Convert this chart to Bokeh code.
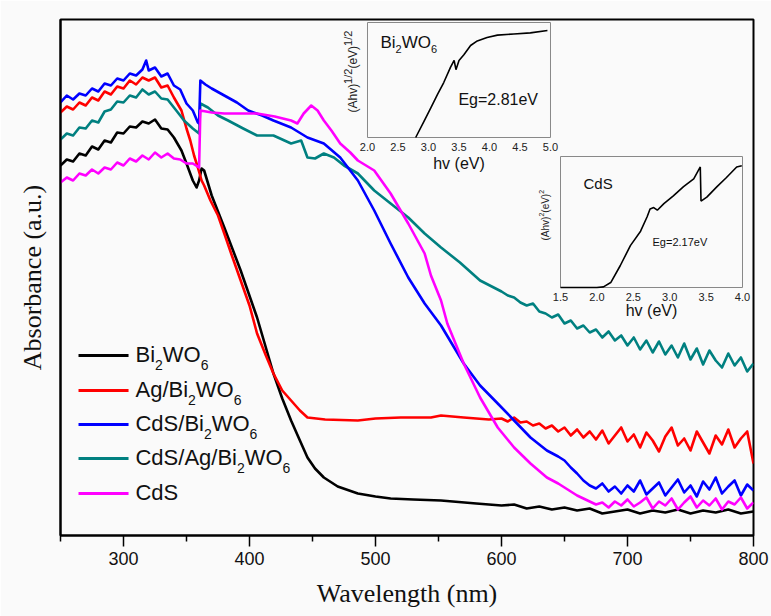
import math
from bokeh.plotting import figure
from bokeh.models import Range1d, FixedTicker
from bokeh.core.properties import value
from bokeh.embed import file_html
from bokeh.resources import INLINE

# ---------------- data ----------------
wl_black = [250, 255, 260, 265, 270, 275, 280, 285, 290, 295, 300, 305, 310, 315, 320, 325, 330, 335, 340,
            346, 350, 355, 358, 360, 362, 364,
            370, 380, 393, 406, 419, 426, 433, 440, 446, 452, 459, 470, 486, 500, 512, 530, 552, 580,
            600, 610, 620, 630, 640, 650, 660, 670, 680, 690, 700, 710, 720, 730, 740, 750, 760, 770, 780, 790, 800]
ab_black = [370, 376, 374, 382, 380, 389, 386, 395, 393, 403, 402, 409, 408, 414, 412, 416, 407, 406, 398,
            385, 372, 355, 348, 355, 367, 365,
            340, 308, 265, 218, 162, 137, 115, 95, 78, 67, 58, 49, 42, 39, 37, 36, 35, 32,
            30, 31, 27, 29, 26, 28, 25, 27, 22, 24, 26, 22, 25, 23, 26, 22, 25, 23, 26, 22, 24]

wl_red = [250, 255, 260, 265, 270, 275, 280, 285, 290, 295, 300, 305, 310, 315, 320, 325, 330, 335, 340,
          346, 350, 353, 356, 359, 362, 364, 369, 375, 380, 386, 393, 400, 406, 413, 419, 426, 433, 440, 446,
          460, 486, 500, 520, 544, 552, 570, 590,
          600, 605, 610, 615, 620, 625, 630, 635, 640, 645, 650, 655, 660, 665, 670, 675, 680, 685, 690, 695,
          700, 705, 710, 715, 720, 725, 730, 735, 740, 745, 750, 755, 760, 765, 770, 775, 780, 785, 790, 795, 800]
ab_red = [423, 429, 426, 433, 430, 438, 435, 444, 441, 449, 447, 455, 451, 458, 455, 458, 448, 450, 438,
          425, 407, 395, 380, 368, 355, 350, 335, 320, 302, 280, 255, 230, 202, 180, 162, 145, 135, 125, 118,
          116, 115, 117, 118, 118, 120, 118, 116,
          117, 114, 118, 113, 114, 110, 112, 107, 110, 104, 108, 100, 106, 98, 104, 96, 105, 92, 100, 108,
          94, 101, 88, 103, 95, 84, 99, 108, 90, 97, 85, 104, 93, 82, 100, 91, 106, 88, 97, 104, 72]

wl_blue = [250, 255, 260, 265, 270, 275, 280, 285, 290, 295, 300, 305, 310, 315,
           318, 320, 325, 330, 335, 340, 345, 350, 355, 359, 360,
           361, 365, 370, 380, 390, 399, 410, 419, 433, 446, 459, 472, 486, 499, 512, 526, 539, 552, 570, 583,
           597, 610, 623, 636, 645,
           650, 655, 660, 665, 670, 675, 680, 685, 690, 695, 700, 705, 710, 715, 720, 725, 730, 735, 740, 745,
           750, 755, 760, 765, 770, 775, 780, 785, 790, 795, 800]
ab_blue = [433, 440, 436, 442, 440, 447, 444, 452, 450, 457, 455, 462, 460, 466,
           475, 465, 468, 459, 462, 450, 446, 432, 425, 413, 412,
           455, 451, 447, 440, 433, 425, 420, 415, 408, 398, 392, 378, 355, 325, 292, 258, 232, 210, 172, 150,
           132, 115, 98, 85, 79,
           75, 68, 62, 55, 50, 47, 52, 44, 49, 42, 50, 44, 55, 41, 47, 53, 40, 48, 56, 43,
           50, 39, 54, 46, 58, 42, 49, 55, 40, 51, 45]

wl_teal = [250, 255, 260, 265, 270, 275, 280, 285, 290, 295, 300, 305, 310, 315, 320, 325, 330, 335, 340, 345,
           348, 355, 360,
           361, 367, 375, 383, 395, 406, 419, 433, 441, 446, 452, 459, 467, 475, 486, 499, 512, 526, 539, 552,
           567, 583,
           600, 605, 610, 615, 620, 625, 630, 635, 640, 645, 650, 655, 660, 665, 670, 675, 680, 685, 690, 695,
           700, 705, 710, 715, 720, 725, 730, 735, 740, 745, 750, 755, 760, 765, 770, 775, 780, 785, 790, 795, 800]
ab_teal = [396, 402, 400, 408, 407, 415, 413, 424, 426, 434, 433, 440, 438, 446, 441, 444, 437, 436, 428, 420,
           415, 407, 402,
           432, 428, 420, 415, 407, 400, 400, 392, 395, 378, 377, 382, 378, 370, 362, 345, 332, 318, 302, 288,
           273, 255,
           244, 240, 238, 233, 230, 232, 224, 222, 218, 221, 212, 215, 207, 210, 203, 206, 198, 204, 195, 200,
           190, 198, 186, 195, 183, 194, 181, 190, 178, 192, 176, 187, 171, 185, 175, 168, 182, 170, 178, 164, 172]

wl_mag = [250, 255, 260, 265, 270, 275, 280, 285, 290, 295, 300, 305, 310, 315, 320, 325, 330, 335, 340, 345,
          350, 355, 360,
          361, 370, 380, 395, 406, 420, 433, 438, 443, 449, 454, 459, 465, 472, 480, 486, 499, 512, 526, 539,
          544, 552, 557, 570, 583, 597, 610, 623, 636, 645,
          650, 655, 660, 665, 670, 675, 680, 685, 690, 695, 700, 705, 710, 715, 720, 725, 730, 735, 740, 745,
          750, 755, 760, 765, 770, 775, 780, 785, 790, 795, 800]
ab_mag = [353, 358, 355, 362, 360, 366, 362, 368, 366, 373, 370, 377, 374, 380, 376, 383, 378, 382, 377, 376,
          372, 372, 368,
          425, 423, 422, 422, 422, 419, 415, 412, 422, 430, 425, 415, 405, 392, 383, 375, 365, 342, 312, 282,
          260, 235, 212, 172, 138, 108, 88, 72, 58, 52,
          48, 44, 40, 37, 34, 31, 33, 28, 34, 30, 36, 29, 33, 38, 27, 34, 30, 37, 26, 33,
          39, 28, 35, 30, 37, 26, 34, 31, 38, 27, 33]

series_names = ["Bi2WO6", "Ag/Bi2WO6", "CdS/Bi2WO6", "CdS/Ag/Bi2WO6", "CdS"]
series_colors = ["#000000", "#ff0000", "#0000ff", "#008080", "#ff00ff"]

# inset 1: Tauc plot of Bi2WO6
ev1 = [2.79, 2.93, 3.04, 3.15, 3.25, 3.36, 3.42, 3.45, 3.50, 3.58, 3.69, 3.80, 3.96, 4.13, 4.40, 4.67, 4.95]
ta1 = [0.0, 0.145, 0.26, 0.377, 0.478, 0.61, 0.67, 0.59, 0.67, 0.72, 0.80, 0.84, 0.87, 0.89, 0.90, 0.91, 0.93]
# inset 2: Tauc plot of CdS
ev2 = [1.5, 1.8, 2.0, 2.09, 2.19, 2.32, 2.46, 2.60, 2.69, 2.73, 2.78, 2.83, 2.92, 3.05, 3.19, 3.33, 3.42,
       3.43, 3.51, 3.65, 3.78, 3.92, 3.99]
ta2 = [0.0, 0.0, 0.0, 0.005, 0.038, 0.166, 0.32, 0.43, 0.54, 0.60, 0.61, 0.59, 0.64, 0.70, 0.77, 0.83, 0.92,
       0.66, 0.69, 0.77, 0.84, 0.92, 0.93]

x_ticks = [300, 400, 500, 600, 700, 800]
x_minor = [250, 350, 450, 550, 650, 750]
ins1_ticks = [2.0, 2.5, 3.0, 3.5, 4.0, 4.5, 5.0]
ins2_ticks = [1.5, 2.0, 2.5, 3.0, 3.5, 4.0]

for a, b in [(wl_black, ab_black), (wl_red, ab_red), (wl_blue, ab_blue), (wl_teal, ab_teal), (wl_mag, ab_mag)]:
    if len(a) != len(b):
        print("length mismatch", len(a), len(b))

# ---------------- helpers ----------------
ARIAL = {"B": 667, "i": 222, "W": 944, "O": 778, "A": 667, "g": 556, "/": 278, "C": 722, "d": 556,
         "S": 667, "0": 556, "1": 556, "2": 556, "6": 556, "(": 333, ")": 333, "h": 556, "v": 500,
         "e": 556, "V": 667, " ": 278}


def tw(s, size):
    return sum(ARIAL.get(c, 556) for c in s) * size / 1000.0


SANS = value("Liberation Sans")
SERIF = "Liberation Serif"
BG = "#fafafa"

# ---------------- main figure ----------------
p = figure(width=771, height=616, x_range=Range1d(250, 800), y_range=Range1d(0, 516),
           output_backend="svg", toolbar_location=None,
           min_border_left=60, min_border_right=18, min_border_top=19, min_border_bottom=81)
p.background_fill_color = BG
p.border_fill_color = BG
p.outline_line_color = "black"
p.outline_line_width = 2
p.xgrid.visible = False
p.ygrid.visible = False

xa = p.xaxis[0]
xa.ticker = FixedTicker(ticks=x_ticks, minor_ticks=x_minor)
xa.major_tick_in = 0
xa.major_tick_out = 11
xa.minor_tick_in = 0
xa.minor_tick_out = 6
xa.major_tick_line_width = 1.5
xa.minor_tick_line_width = 1.5
xa.axis_line_width = 2
xa.major_label_text_font = "Liberation Sans"
xa.major_label_text_font_size = "18px"
xa.major_label_text_color = "#111111"
xa.major_label_standoff = 5
xa.axis_label = "Wavelength (nm)"
xa.axis_label_text_font = SERIF
xa.axis_label_text_font_size = "26px"
xa.axis_label_text_font_style = "normal"
xa.axis_label_text_color = "#111111"
xa.axis_label_standoff = 11

ya = p.yaxis[0]
ya.ticker = FixedTicker(ticks=[])
ya.major_tick_in = 0
ya.major_tick_out = 0
ya.minor_tick_in = 0
ya.minor_tick_out = 0
ya.major_label_text_font_size = "0px"
ya.axis_line_width = 2
ya.axis_label = "Absorbance (a.u.)"
ya.axis_label_text_font = SERIF
ya.axis_label_text_font_size = "26px"
ya.axis_label_text_font_style = "normal"
ya.axis_label_text_color = "#111111"
ya.axis_label_standoff = 14

xs_all = [wl_black, wl_red, wl_teal, wl_blue, wl_mag]
ys_all = [ab_black, ab_red, ab_teal, ab_blue, ab_mag]
cols = ["#000000", "#ff0000", "#008080", "#0000ff", "#ff00ff"]
for xs, ys, c in zip(xs_all, ys_all, cols):
    p.line(xs, ys, line_color=c, line_width=2.6, line_join="round")

# ---------------- legend (drawn by hand to allow subscripts) ----------------
leg_y = [180, 145, 111, 77, 42]
leg_x0, leg_x1, leg_tx = 264.3, 304.0, 309.5
p.segment(x0=[leg_x0] * 5, x1=[leg_x1] * 5, y0=leg_y, y1=leg_y, line_color=series_colors, line_width=3)

MAIN, SUB = 22, 14
for name, yy in zip(series_names, leg_y):
    pieces = []
    buf = ""
    for ch in name:
        if ch.isdigit():
            if buf:
                pieces.append((buf, False))
                buf = ""
            pieces.append((ch, True))
        else:
            buf += ch
    if buf:
        pieces.append((buf, False))
    off = 0.0
    for txt, sub in pieces:
        size = SUB if sub else MAIN
        p.text(x=[leg_tx], y=[yy], text=[txt], x_offset=off, y_offset=9 if sub else -1,
               text_font=SANS, text_font_size=f"{size}px", text_color="#111111",
               text_align="left", text_baseline="middle")
        off += tw(txt, size)

# ---------------- inset 1 (Bi2WO6) ----------------
p.extra_x_ranges["i1x"] = Range1d(-3.0328, 8.3279)
p.extra_y_ranges["i1y"] = Range1d(-3.4609, 1.0261)
kw1 = dict(x_range_name="i1x", y_range_name="i1y")
p.quad(left=[2.0], right=[5.0], bottom=[0], top=[1], fill_color=BG, line_color="#888888", line_width=1, **kw1)
p.line(ev1, ta1, line_color="black", line_width=1.6, **kw1)
p.text(x=ins1_ticks, y=[0] * len(ins1_ticks), text=[f"{t:.1f}" for t in ins1_ticks], y_offset=9,
       text_font=SANS, text_font_size="11px", text_color="#222222", text_align="center",
       text_baseline="middle", **kw1)
p.text(x=[3.5], y=[0], text=["hv (eV)"], y_offset=26, text_font=SANS, text_font_size="16px",
       text_color="#111111", text_align="center", text_baseline="middle", **kw1)
p.text(x=[3.49], y=[0.33], text=["Eg=2.81eV"], text_font=SANS, text_font_size="16px",
       text_color="#111111", text_align="left", text_baseline="middle", **kw1)
off = 0.0
for txt, sz, sub in [("Bi", 17, False), ("2", 11, True), ("WO", 17, False), ("6", 11, True)]:
    p.text(x=[2.213], y=[0.826], text=[txt], x_offset=off, y_offset=6 if sub else 0,
           text_font=SANS, text_font_size=f"{sz}px", text_color="#111111",
           text_align="left", text_baseline="middle", **kw1)
    off += tw(txt, sz)
ypos = 0.217
for txt, sz, sup in [("(Ahv)", 12, False), ("1/2", 11, True), ("(eV)", 12, False), ("1/2", 11, True)]:
    p.text(x=[1.77], y=[ypos], text=[txt], x_offset=-5 if sup else 0, angle=math.pi / 2,
           text_font=SANS, text_font_size=f"{sz}px", text_color="#222222",
           text_align="left", text_baseline="middle", **kw1)
    ypos += tw(txt, sz) / 115.0

# ---------------- inset 2 (CdS) ----------------
p.extra_x_ranges["i2x"] = Range1d(-5.368, 4.151)
p.extra_y_ranges["i2y"] = Range1d(-1.893, 2.0458)
kw2 = dict(x_range_name="i2x", y_range_name="i2y")
p.quad(left=[1.5], right=[4.0], bottom=[0], top=[1], fill_color=BG, line_color="#888888", line_width=1, **kw2)
p.line(ev2, ta2, line_color="black", line_width=1.6, **kw2)
p.text(x=ins2_ticks, y=[0] * len(ins2_ticks), text=[f"{t:.1f}" for t in ins2_ticks], y_offset=9,
       text_font=SANS, text_font_size="11px", text_color="#222222", text_align="center",
       text_baseline="middle", **kw2)
p.text(x=[2.75], y=[0], text=["hv (eV)"], y_offset=23, text_font=SANS, text_font_size="16px",
       text_color="#111111", text_align="center", text_baseline="middle", **kw2)
p.text(x=[1.816], y=[0.794], text=["CdS"], text_font=SANS, text_font_size="15px",
       text_color="#111111", text_align="left", text_baseline="middle", **kw2)
p.text(x=[2.764], y=[0.344], text=["Eg=2.17eV"], text_font=SANS, text_font_size="11px",
       text_color="#111111", text_align="left", text_baseline="middle", **kw2)
ypos = 0.359
for txt, sz, sup in [("(Ahv)", 10, False), ("2", 7, True), ("(eV)", 10, False), ("2", 7, True)]:
    p.text(x=[1.294], y=[ypos], text=[txt], x_offset=-4 if sup else 0, angle=math.pi / 2,
           text_font=SANS, text_font_size=f"{sz}px", text_color="#222222",
           text_align="left", text_baseline="middle", **kw2)
    ypos += tw(txt, sz) / 131.0

open("out.html", "w").write(file_html(p, INLINE))
